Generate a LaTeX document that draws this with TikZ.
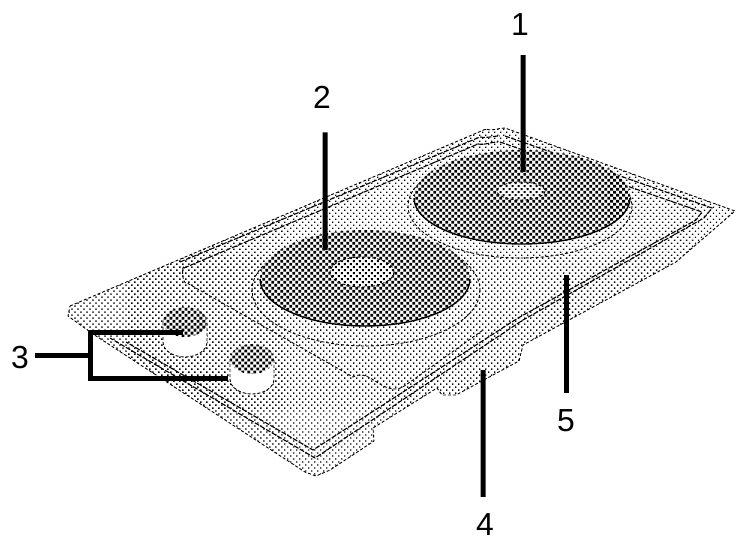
\documentclass[tikz,border=0pt]{standalone}
\usepackage{fontspec}
\setmainfont{Liberation Sans}
\usetikzlibrary{patterns.meta}
\def\linew{5}
\tikzset{
  lightdots/.style={pattern={Dots[radius=0.95bp,distance=4.24bp,angle=45]}},
  middots/.style={pattern={Dots[radius=1.4bp,distance=4.24bp,angle=45]}},
  darkdots/.style={pattern={Dots[radius=1.95bp,distance=4.24bp,angle=45]}},
  edge/.style={black, line width=0.9bp, densely dashed},
  rim/.style={black, line width=1.1bp, dash pattern=on 5bp off 1.5bp},
  leader/.style={black, line width=\linew bp},
  numlabel/.style={font=\fontsize{32}{32}\selectfont, inner sep=0pt},
}
\begin{document}
\begin{tikzpicture}[x=1bp, y=-1bp]
    \useasboundingbox (0,0) rectangle (749,543);

    % hob body
    \fill[lightdots] (70,306) -- (486,129) to[out=-20, in=180] (505,128) -- (735,211)
      -- (676,262) -- (523,345) -- (519,361) -- (456,395) -- (442,395) -- (437,388)
      -- (373,428) -- (374,441) -- (330,470) -- (316,476) -- (305,472) -- (93,334)
      -- (68,316) -- cycle;
    \draw[edge] (70,306) -- (486,129) to[out=-20, in=180] (505,128) -- (735,211)
      -- (676,262) -- (523,345) -- (519,361) -- (456,395) -- (442,395) -- (437,388)
      -- (373,428) -- (374,441) -- (330,470) -- (316,476) -- (305,472) -- (93,334)
      -- (68,316) -- cycle;

    % raised rim, two lines
    \draw[rim] (180,262) -- (480,137) to[out=-10, in=180] (500,136);
    \draw[rim] (184,268) -- (478,144) to[out=-10, in=180] (498,142);
    \draw[rim] (505,136) -- (712,208) -- (704,218) -- (523,320) -- (315,458) -- (110,338);
    \draw[rim] (500,142) -- (702,212) -- (696,220) -- (518,318) -- (313,450) -- (126,342);

    % recess
    \draw[edge] (184,268) to[out=110, in=200] (187,283) -- (353,377)
      to[out=30, in=180] (395,389) to[out=0, in=210] (413,380) -- (483,330);

    % rear burner
    \draw[edge] (520,206) ellipse [x radius=112, y radius=52];
    \fill[white] (522,197) ellipse [x radius=108, y radius=47];
    \fill[darkdots] (522,197) ellipse [x radius=108, y radius=47];
    \draw[black, line width=1.4bp] (414,198) arc [start angle=180, end angle=0, x radius=108, y radius=46];
    \fill[white] (521,191) ellipse [x radius=24, y radius=9];
    \fill[middots] (521,191) ellipse [x radius=24, y radius=9];
    \draw[edge] (521,191) ellipse [x radius=24, y radius=9];

    % front burner
    \draw[edge] (366,290) ellipse [x radius=114, y radius=56];
    \fill[white] (365,278) ellipse [x radius=105, y radius=48];
    \fill[darkdots] (365,278) ellipse [x radius=105, y radius=48];
    \draw[black, line width=1.4bp] (260,279) arc [start angle=180, end angle=0, x radius=105, y radius=47];
    \fill[white] (362,272) ellipse [x radius=32, y radius=15];
    \fill[middots] (362,272) ellipse [x radius=32, y radius=15];
    \draw[edge] (362,272) ellipse [x radius=32, y radius=15];

    % knobs
    \foreach \x/\y in {185/322, 252/359} {
      \fill[white] (\x-22,\y) -- (\x-22,\y+20) arc [start angle=180, end angle=0, x radius=22, y radius=15] -- (\x+22,\y) -- cycle;
      \draw[edge] (\x-22,\y) -- (\x-22,\y+20) arc [start angle=180, end angle=0, x radius=22, y radius=15] -- (\x+22,\y);
      \fill[white] (\x,\y) ellipse [x radius=22, y radius=15];
      \fill[darkdots] (\x,\y) ellipse [x radius=22, y radius=15];
    }

    % numbers and leaders
    \node[numlabel] (lblone) at (520,25) {1};
    \node[numlabel] (lbltwo) at (322,97) {2};
    \node[numlabel] (lblthree) at (20,358) {3};
    \node[numlabel] (lblfour) at (485,525) {4};
    \node[numlabel] (lblfive) at (566,421) {5};

    \coordinate (tipone) at (523,172);
    \coordinate (tiptwo) at (325,250);
    \coordinate (tipfour) at (483,370);
    \coordinate (tipfive) at (566,275);
    \coordinate (knobone) at (183,332);
    \coordinate (knobtwo) at (228,378);
    \coordinate (brace) at (90,355);

    \draw[leader] ([xshift=3bp, yshift=-19bp]lblone.south) -- (tipone);
    \draw[leader] ([xshift=3bp, yshift=-24bp]lbltwo.south) -- (tiptwo);
    \draw[leader] ([xshift=-2bp, yshift=17bp]lblfour.north) -- (tipfour);
    \draw[leader] ([yshift=17bp]lblfive.north) -- (tipfive);
    \draw[leader] (lblthree.east) ++(6,-3) -- (brace);
    \draw[leader, line cap=butt] (knobone) -| (brace) |- (knobtwo);
\end{tikzpicture}
\end{document}
